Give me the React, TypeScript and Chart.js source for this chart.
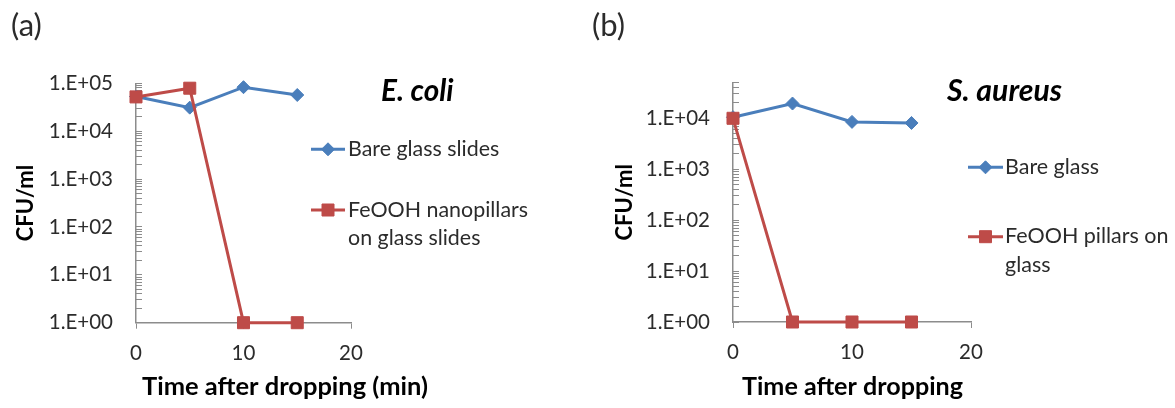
import React, { useEffect, useRef } from 'react';
import { Chart, registerables } from 'chart.js';

Chart.register(...registerables);

// ---------- data ----------
const timesMin = [0, 5, 10, 15];
const ecoliBare = [5.3e4, 3.1e4, 8.3e4, 5.7e4];
const ecoliFeOOH = [5.2e4, 7.9e4, 1, 1];
const aureusBare = [1.05e4, 1.95e4, 8.5e3, 8.1e3];
const aureusFeOOH = [1e4, 1, 1, 1];
const xTickValues = [0, 10, 20];
const panelLabels = ['(a)', '(b)'];
const speciesNames = ['E. coli', 'S. aureus'];
const legendA = [['Bare glass slides'], ['FeOOH nanopillars', 'on glass slides']];
const legendB = [['Bare glass'], ['FeOOH pillars on', 'glass']];
const xTitles = ['Time after dropping (min)', 'Time after dropping'];
const yTitle = 'CFU/ml';
const yMaxes = [1e5, 5e4];

const BLUE = '#4A7EBB';
const RED = '#BE4B48';
const AXIS = '#8c8c8c';
const TEXT = '#2b2b2b';
const FONT = "Lato, 'Open Sans', sans-serif";

function logTicks(max: number): number[] {
  const out: number[] = [];
  for (let p = 1; p <= max; p *= 10) {
    for (let m = 1; m <= 9; m++) {
      const v = m * p;
      if (v <= max * 1.0001) out.push(v);
    }
  }
  return out;
}

function fmtLog(value: number): string {
  const k = Math.log10(value);
  const r = Math.round(k);
  if (Math.abs(k - r) < 1e-9) return '1.E+' + String(r).padStart(2, '0');
  return '';
}

// font size that makes `text` span `target` pixels
function fitSize(ctx: CanvasRenderingContext2D, style: string, text: string, target: number): number {
  ctx.font = `${style} 100px ${FONT}`;
  const w = ctx.measureText(text).width;
  return w > 0 ? (100 * target) / w : 20;
}

type PanelSpec = {
  left: number;
  width: number;
  padTop: number;
  padRight: number;
  yWidth: number;
  xHeight: number;
  yMax: number;
  yTitlePad: number;
  bare: number[];
  feooh: number[];
  legend: string[][];
  legendPos: { x0: number; x1: number; textX: number; ys: number[]; widths: number[] };
  label: string;
  labelPos: [number, number];
  species: string;
  speciesPos: [number, number, number];
  xTitle: string;
  xTitlePos: [number, number, number];
};

function drawMarker(ctx: CanvasRenderingContext2D, kind: string, x: number, y: number, color: string) {
  ctx.fillStyle = color;
  ctx.strokeStyle = color;
  ctx.lineWidth = 1;
  ctx.beginPath();
  if (kind === 'diamond') {
    const r = 6.5;
    ctx.moveTo(x - r, y);
    ctx.lineTo(x, y - r);
    ctx.lineTo(x + r, y);
    ctx.lineTo(x, y + r);
    ctx.closePath();
  } else {
    const s = 6;
    ctx.rect(x - s, y - s, 2 * s, 2 * s);
  }
  ctx.fill();
  ctx.stroke();
}

function overlayPlugin(spec: PanelSpec) {
  return {
    id: 'overlay',
    afterDraw(chart: any) {
      const ctx: CanvasRenderingContext2D = chart.ctx;
      ctx.save();
      ctx.fillStyle = TEXT;
      ctx.textBaseline = 'alphabetic';
      ctx.textAlign = 'left';
      // panel label
      ctx.font = `31px ${FONT}`;
      ctx.fillText(spec.label, spec.labelPos[0], spec.labelPos[1]);
      // species name
      const sp = fitSize(ctx, 'italic bold', spec.species, spec.speciesPos[2]);
      ctx.font = `italic bold ${sp}px ${FONT}`;
      ctx.fillStyle = '#000';
      ctx.fillText(spec.species, spec.speciesPos[0], spec.speciesPos[1]);
      // legend
      const colors = [BLUE, RED];
      const kinds = ['diamond', 'square'];
      const s1 = fitSize(ctx, '', spec.legend[0][0], spec.legendPos.widths[0]);
      const s2 = fitSize(ctx, '', spec.legend[1][0], spec.legendPos.widths[1]);
      const ls = (s1 + s2) / 2;
      spec.legend.forEach((lines, i) => {
        const y = spec.legendPos.ys[i];
        ctx.strokeStyle = colors[i];
        ctx.lineWidth = 3;
        ctx.beginPath();
        ctx.moveTo(spec.legendPos.x0, y);
        ctx.lineTo(spec.legendPos.x1, y);
        ctx.stroke();
        drawMarker(ctx, kinds[i], (spec.legendPos.x0 + spec.legendPos.x1) / 2, y, colors[i]);
        ctx.fillStyle = TEXT;
        ctx.font = `${ls}px ${FONT}`;
        ctx.textAlign = 'left';
        lines.forEach((t, j) => {
          ctx.fillText(t, spec.legendPos.textX, y + 6.5 + j * 28.3);
        });
      });
      // x-axis title
      const xs = fitSize(ctx, 'bold', spec.xTitle, spec.xTitlePos[2]);
      ctx.fillStyle = '#000';
      ctx.font = `bold ${xs}px ${FONT}`;
      ctx.textAlign = 'center';
      ctx.fillText(spec.xTitle, spec.xTitlePos[0], spec.xTitlePos[1]);
      ctx.restore();
    },
  };
}

function Panel({ spec }: { spec: PanelSpec }) {
  const ref = useRef<HTMLCanvasElement | null>(null);
  useEffect(() => {
    if (!ref.current) return;
    const chart = new Chart(ref.current, {
      type: 'line',
      data: {
        datasets: [
          {
            label: spec.legend[0].join(' '),
            data: timesMin.map((t, i) => ({ x: t, y: spec.bare[i] })),
            borderColor: BLUE,
            backgroundColor: BLUE,
            borderWidth: 3,
            pointStyle: 'rectRot',
            pointRadius: 6.5,
            pointBorderWidth: 1,
            pointBackgroundColor: BLUE,
            pointBorderColor: BLUE,
            tension: 0,
            clip: false,
            order: 1,
          },
          {
            label: spec.legend[1].join(' '),
            data: timesMin.map((t, i) => ({ x: t, y: spec.feooh[i] })),
            borderColor: RED,
            backgroundColor: RED,
            borderWidth: 3,
            pointStyle: 'rect',
            pointRadius: 8.5,
            pointBorderWidth: 1,
            pointBackgroundColor: RED,
            pointBorderColor: RED,
            tension: 0,
            clip: false,
            order: 0,
          },
        ],
      },
      options: {
        animation: false,
        responsive: true,
        maintainAspectRatio: false,
        layout: { padding: { top: spec.padTop, right: spec.padRight, left: 0, bottom: 0 } },
        plugins: { legend: { display: false }, tooltip: { enabled: false } },
        scales: {
          x: {
            type: 'linear',
            min: 0,
            max: 20,
            afterBuildTicks: (scale: any) => {
              scale.ticks = xTickValues.map((v) => ({ value: v }));
            },
            afterFit: (scale: any) => {
              scale.height = spec.xHeight;
            },
            ticks: {
              font: { family: FONT, size: 20.5 },
              color: TEXT,
              padding: 12,
              maxRotation: 0,
              autoSkip: false,
            },
            grid: { drawOnChartArea: false, drawTicks: true, tickLength: 6, color: AXIS, lineWidth: 1 },
            border: { color: AXIS, width: 1.5 },
          },
          y: {
            type: 'logarithmic',
            min: 1,
            max: spec.yMax,
            afterBuildTicks: (scale: any) => {
              scale.ticks = logTicks(spec.yMax).map((v) => ({ value: v }));
            },
            afterFit: (scale: any) => {
              scale.width = spec.yWidth;
            },
            ticks: {
              font: { family: FONT, size: 20.5 },
              color: TEXT,
              padding: 29,
              autoSkip: false,
              callback: (v: any) => fmtLog(Number(v)),
            },
            grid: { drawOnChartArea: false, drawTicks: true, tickLength: -6, color: AXIS, lineWidth: 1 },
            border: { color: AXIS, width: 1.5 },
            title: {
              display: true,
              text: yTitle,
              color: '#000',
              font: { family: FONT, size: 22, weight: 'bold' },
              padding: { top: spec.yTitlePad, bottom: 0 },
            },
          },
        },
      },
      plugins: [overlayPlugin(spec)],
    } as any);
    return () => chart.destroy();
  }, [spec]);
  return (
    <div style={{ position: 'absolute', left: spec.left, top: 0, width: spec.width, height: 408 }}>
      <canvas ref={ref} />
    </div>
  );
}

const specA: PanelSpec = {
  left: 0,
  width: 580,
  padTop: 83.3,
  padRight: 229,
  yWidth: 136,
  xHeight: 85.3,
  yMax: yMaxes[0],
  yTitlePad: 13,
  bare: ecoliBare,
  feooh: ecoliFeOOH,
  legend: legendA,
  legendPos: { x0: 311, x1: 345, textX: 348, ys: [149.3, 210], widths: [152.7, 178.7] },
  label: panelLabels[0],
  labelPos: [11, 36],
  species: speciesNames[0],
  speciesPos: [381, 100.7, 72.6],
  xTitle: xTitles[0],
  xTitlePos: [285, 395, 286],
};

const specB: PanelSpec = {
  left: 580,
  width: 595,
  padTop: 82.7,
  padRight: 204,
  yWidth: 153,
  xHeight: 86,
  yMax: yMaxes[1],
  yTitlePad: 32,
  bare: aureusBare,
  feooh: aureusFeOOH,
  legend: legendB,
  legendPos: { x0: 388, x1: 423, textX: 425, ys: [167.3, 236.7], widths: [95.7, 161] },
  label: panelLabels[1],
  labelPos: [12, 36],
  species: speciesNames[1],
  speciesPos: [367, 100.7, 115],
  xTitle: xTitles[1],
  xTitlePos: [272.5, 395, 221],
};

export default function App() {
  return (
    <div style={{ position: 'absolute', left: 0, top: 0, width: 1175, height: 408, background: '#fff' }}>
      <Panel spec={specA} />
      <Panel spec={specB} />
    </div>
  );
}
